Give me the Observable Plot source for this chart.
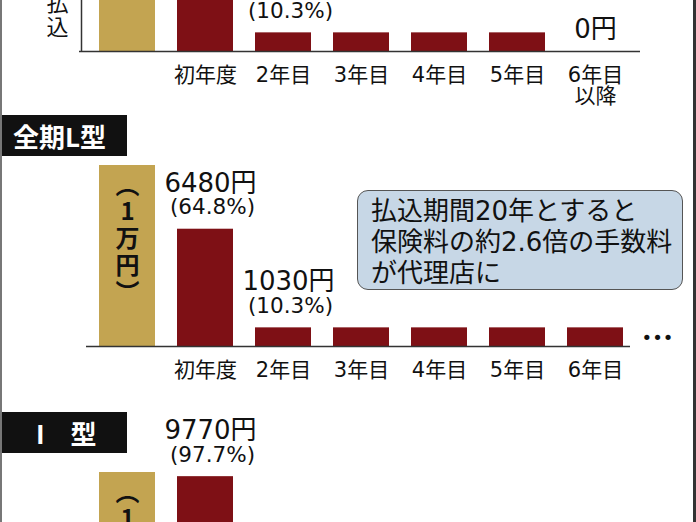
<!DOCTYPE html>
<html><head><meta charset="utf-8">
<script src="https://cdn.jsdelivr.net/npm/d3@7"></script>
<script src="https://cdn.jsdelivr.net/npm/@observablehq/plot@0.6"></script>
<style>
body{margin:0;background:#fff;}
#wrap{position:relative;width:696px;height:522px;overflow:hidden;background:#fff;font-family:'Noto Sans CJK JP',sans-serif;}
.panel{position:absolute;left:0;}
.hdr{position:absolute;left:0;width:127px;height:41px;background:#111;color:#fff;font-weight:bold;font-size:26px;line-height:41px;white-space:pre;}
.note{position:absolute;left:357px;top:190px;width:326px;height:100px;box-sizing:border-box;background:#c7d7e6;border:1.5px solid #555;border-radius:11px;font-family:'DejaVu Sans','Noto Sans CJK JP',sans-serif;font-size:26px;line-height:31px;padding:5px 0 0 13px;color:#111;white-space:nowrap;}
.bl{position:absolute;left:0;top:0;width:2px;height:522px;background:#777;}
.br{position:absolute;right:0;top:0;width:3px;height:522px;background:#333;}
</style>
</head><body>
<div id="wrap"></div>
<script>
// ---- data ----
const categories = ["払込", "初年度", "2年目", "3年目", "4年目", "5年目", "6年目"];
const yearTicks = ["初年度", "2年目", "3年目", "4年目", "5年目", "6年目"];
const premium = 10000;               // 払込保険料 1万円
const premiumLabel = "1万円";
const topFees = [6480, 1030, 1030, 1030, 1030, 0];    // 上段（6年目以降 0円）
const fullLFees = [6480, 1030, 1030, 1030, 1030, 1030]; // 全期L型
const iTypeFees = [9770];                               // I型
const topLabelCats = ["初年度", "2年目", "6年目"];
const fullLLabelCats = ["初年度", "2年目"];
const iTypeLabelCats = ["初年度"];
const panelTitles = ["全期L型", "I　型"];
const noteLines = ["払込期間20年とすると", "保険料の約2.6倍の手数料", "が代理店に"];

const GOLD = "#c3a451", RED = "#7e1015";
const NUMFONT = "'DejaVu Sans', 'Noto Sans CJK JP', sans-serif";

function rows(fees) {
  return [{cat: categories[0], value: premium, kind: "保険料"},
    ...fees.map((v, i) => ({cat: categories[i + 1], value: v, kind: "手数料"}))];
}

function makePanel({fees, labelCats, top, marginBottom, tickFormat, insetLeft, insetRight, leftRule, dots, sideText}) {
  const data = rows(fees);
  const lab = data.filter(d => labelCats.includes(d.cat));
  const marks = [
    Plot.barY(data, {x: "cat", y: "value", fill: "kind"}),
    Plot.text(data.filter(d => d.kind === "保険料"), {x: "cat", y: "value",
      text: () => "︵\n" + [...premiumLabel].join("\n") + "\n︶",
      lineAnchor: "top", dy: 9, fontSize: 24, fontWeight: "bold", lineHeight: 1.12, fill: "#111"}),
    Plot.ruleY([0], {insetLeft, insetRight, stroke: "#333", strokeWidth: 1.5}),
    Plot.axisX(yearTicks, {tickSize: 0, tickPadding: 16, tickFormat, label: null, fontSize: 21, fontFamily: NUMFONT, fill: "#111"}),
    Plot.text(lab.filter(d => d.value > 0), {x: "cat", y: "value", text: d => `${d.value}円`, dy: -46, dx: 5, fontSize: 26, fontFamily: NUMFONT, fill: "#111"}),
    Plot.text(lab.filter(d => d.value > 0), {x: "cat", y: "value", text: d => `(${(d.value / premium * 100).toFixed(1)}%)`, dy: -22, dx: 7, fontSize: 21.5, fontFamily: NUMFONT, fill: "#111"}),
    Plot.text(lab.filter(d => d.value === 0), {x: "cat", y: "value", text: d => `${d.value}円`, dy: -22, fontSize: 26, fontFamily: NUMFONT, fill: "#111"})
  ];
  if (leftRule) marks.push(Plot.ruleX([categories[0]], {dx: -46, stroke: "#333", strokeWidth: 1.5}));
  if (sideText) marks.push(Plot.text([data[0]], {x: "cat", y: 0, text: () => sideText, dx: -70, dy: -36, fontSize: 22, lineHeight: 1.1, fill: "#111"}));
  if (dots) marks.push(Plot.text([data[data.length - 1]], {x: "cat", y: 0, text: () => "•••", dx: 62, dy: -8, fontSize: 18, fontFamily: NUMFONT, fill: "#111"}));
  const svg = Plot.plot({
    width: 696, height: 45 + 181 + marginBottom,
    marginTop: 45, marginBottom, marginLeft: 74, marginRight: 47,
    x: {type: "band", domain: categories, padding: 0.28, align: 0.5, axis: null, label: null},
    y: {domain: [0, premium], axis: null},
    color: {domain: ["保険料", "手数料"], range: [GOLD, RED]},
    style: {background: "transparent", fontFamily: "'Noto Sans CJK JP', sans-serif", fontSize: "21px", color: "#111", overflow: "visible"},
    marks
  });
  svg.classList.add("panel");
  svg.style.top = top + "px";
  return svg;
}

const wrap = document.getElementById("wrap");
wrap.appendChild(makePanel({fees: topFees, labelCats: topLabelCats, top: -175, marginBottom: 60,
  tickFormat: d => d === "6年目" ? "6年目\n以降" : d, insetLeft: 5, insetRight: 9, leftRule: true, sideText: "払\n込"}));
wrap.appendChild(makePanel({fees: fullLFees, labelCats: fullLLabelCats, top: 120, marginBottom: 50,
  tickFormat: d => d, insetLeft: 12, insetRight: 19, dots: true}));
wrap.appendChild(makePanel({fees: iTypeFees, labelCats: iTypeLabelCats, top: 427, marginBottom: 50,
  tickFormat: d => d, insetLeft: 12, insetRight: 19}));

const h1 = document.createElement("div");
h1.className = "hdr"; h1.style.top = "115px"; h1.style.paddingLeft = "13px"; h1.style.width = "114px";
h1.textContent = panelTitles[0];
wrap.appendChild(h1);
const h2 = document.createElement("div");
h2.className = "hdr"; h2.style.top = "412px"; h2.style.paddingLeft = "36px"; h2.style.width = "91px";
h2.textContent = panelTitles[1];
wrap.appendChild(h2);

const note = document.createElement("div");
note.className = "note";
note.innerHTML = noteLines.join("<br>");
wrap.appendChild(note);

const bl = document.createElement("div"); bl.className = "bl"; wrap.appendChild(bl);
const br = document.createElement("div"); br.className = "br"; wrap.appendChild(br);
</script>
</body></html>
